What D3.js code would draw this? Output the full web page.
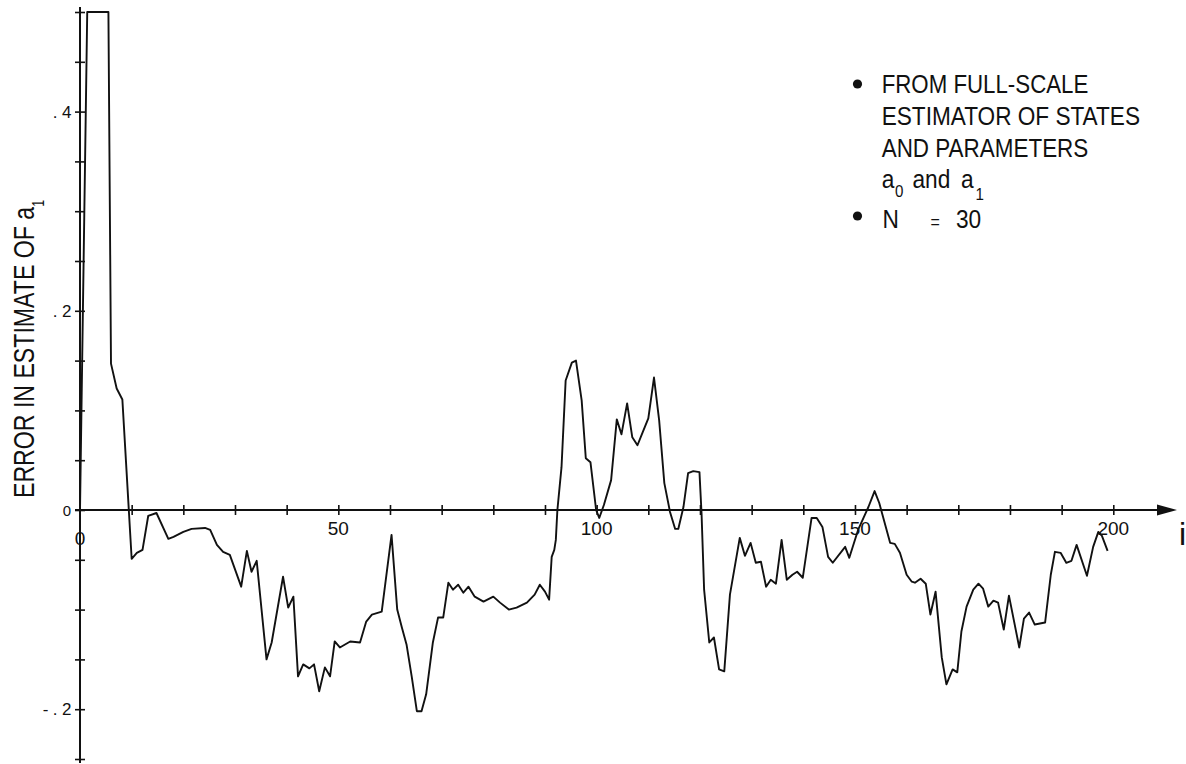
<!DOCTYPE html>
<html>
<head>
<meta charset="utf-8">
<script src="https://cdn.jsdelivr.net/npm/d3@7"></script>
<style>
  html, body { margin: 0; padding: 0; background: #fff; }
  svg { display: block; }
  text { font-family: "Liberation Sans", Arial, sans-serif; fill: #111; }
</style>
</head>
<body>
<svg id="chart" width="1186" height="764"></svg>
<script>
// Sample index i and the error in the a1 estimate at that step
const stepIndex = [
  0, 1.4, 5.5, 6.0, 7.1, 8.2, 10.0, 11.0, 12.1, 13.2, 14.8, 17.1, 18.1, 20.0, 21.6, 24.2, 25.2,
  26.5, 27.7, 29.0, 31.2, 32.3, 33.2, 34.2, 36.1, 37.1, 39.3, 40.3, 41.3, 42.2, 43.2, 44.4,
  45.3, 46.3, 47.4, 48.4, 49.3, 50.3, 52.3, 54.2, 55.4, 56.5, 58.4, 60.3, 61.4, 62.3, 63.2,
  64.2, 65.2, 66.1, 67.0, 68.3, 69.3, 70.3, 71.3, 72.2, 73.2, 74.2, 75.2, 76.4, 78.1, 80.0,
  81.3, 83.0, 84.5, 86.5, 88.0, 89.0, 90.0, 90.8, 91.3, 91.8, 92.1, 92.4, 93.2, 94.0, 95.2,
  96.0, 97.1, 97.9, 98.8, 99.9, 100.5, 101.4, 102.8, 103.9, 104.8, 105.9, 106.9, 107.9, 108.9,
  110.0, 111.1, 112.1, 113.1, 114.2, 115.2, 115.8, 116.8, 117.7, 118.7, 119.9, 120.3, 120.8,
  121.8, 122.7, 123.7, 124.7, 125.8, 127.7, 128.7, 129.8, 130.8, 131.8, 132.8, 133.7, 134.7,
  135.8, 136.8, 137.9, 138.8, 139.9, 141.6, 142.6, 143.7, 144.8, 145.7, 148.1, 148.9, 150.6,
  152.6, 153.8, 154.7, 156.8, 157.7, 158.7, 160.0, 161.0, 161.6, 162.7, 163.7, 164.6, 165.6,
  166.8, 167.7, 168.9, 169.8, 170.6, 171.6, 172.9, 173.9, 174.8, 175.8, 176.8, 177.7, 178.8,
  179.8, 181.8, 182.7, 183.7, 184.8, 186.8, 187.9, 188.7, 189.8, 190.9, 191.9, 192.9, 194.9,
  196.1, 197.1, 197.8, 198.9
];
const errorA1 = [
  0.000, 0.500, 0.500, 0.147, 0.122, 0.111, -0.049, -0.043, -0.040, -0.006, -0.003, -0.029, -0.027, -0.022, -0.019, -0.018, -0.020,
  -0.035, -0.042, -0.045, -0.077, -0.041, -0.062, -0.051, -0.150, -0.133, -0.067, -0.098, -0.087, -0.167, -0.155, -0.159,
  -0.155, -0.182, -0.158, -0.167, -0.132, -0.138, -0.132, -0.133, -0.112, -0.105, -0.102, -0.025, -0.100, -0.118, -0.135,
  -0.167, -0.202, -0.202, -0.185, -0.133, -0.108, -0.108, -0.073, -0.080, -0.075, -0.083, -0.077, -0.087, -0.092, -0.087,
  -0.093, -0.100, -0.098, -0.093, -0.085, -0.075, -0.082, -0.090, -0.047, -0.040, -0.030, 0.000, 0.043, 0.130, 0.148,
  0.150, 0.110, 0.052, 0.048, 0.000, -0.008, 0.005, 0.030, 0.091, 0.076, 0.107, 0.073, 0.065, 0.078,
  0.092, 0.133, 0.090, 0.027, -0.002, -0.019, -0.019, 0.003, 0.037, 0.039, 0.038, -0.003, -0.080,
  -0.133, -0.128, -0.160, -0.162, -0.085, -0.028, -0.046, -0.033, -0.053, -0.052, -0.077, -0.070, -0.074,
  -0.030, -0.070, -0.065, -0.062, -0.068, -0.008, -0.008, -0.017, -0.047, -0.053, -0.037, -0.048, -0.020,
  0.003, 0.019, 0.007, -0.033, -0.034, -0.043, -0.065, -0.072, -0.073, -0.069, -0.074, -0.105, -0.082,
  -0.148, -0.175, -0.160, -0.163, -0.122, -0.097, -0.080, -0.074, -0.079, -0.097, -0.091, -0.093, -0.120,
  -0.086, -0.138, -0.109, -0.103, -0.115, -0.113, -0.065, -0.042, -0.043, -0.053, -0.051, -0.035, -0.066,
  -0.037, -0.022, -0.026, -0.041
];

const xTickValues = d3.range(10, 201, 10);
const xTickLabels = [0, 50, 100, 150, 200];
const yTickValues = d3.range(0, 16).map(k => -0.25 + k * 0.05);
const yTickLabels = [0.4, 0.2, 0, -0.2];
const legendLines = ["FROM FULL-SCALE", "ESTIMATOR OF STATES", "AND PARAMETERS"];

const svg = d3.select("#chart");
const ink = "#111";

const x = d3.scaleLinear().domain([0, 200]).range([80, 1113.3]);
const y = d3.scaleLinear().domain([-0.25, 0.5]).range([759, 12]);

// ---- axes ----
const gx = svg.append("g").attr("transform", `translate(0,${y(0)})`)
  .call(d3.axisBottom(x).tickValues(xTickValues).tickSize(5).tickSizeOuter(0).tickFormat(""));
gx.select(".domain").remove();
gx.selectAll(".tick line").attr("y1", -5).attr("y2", 5).attr("stroke", ink).attr("stroke-width", 1.6);

const gy = svg.append("g").attr("transform", `translate(${x(0)},0)`)
  .call(d3.axisLeft(y).tickValues(yTickValues).tickSize(5).tickSizeOuter(0).tickFormat(""));
gy.select(".domain").remove();
gy.selectAll(".tick line").attr("x1", -5).attr("x2", 5).attr("stroke", ink).attr("stroke-width", 1.6);

// axis lines with arrowhead on i
svg.append("line").attr("x1", x(0) - 5).attr("x2", 1160).attr("y1", y(0)).attr("y2", y(0))
  .attr("stroke", ink).attr("stroke-width", 2);
svg.append("path")
  .attr("d", `M1157,${y(0) - 5.5} L1177,${y(0)} L1157,${y(0) + 5.5} Z`)
  .attr("fill", ink);
svg.append("line").attr("x1", x(0)).attr("x2", x(0)).attr("y1", 7).attr("y2", 763)
  .attr("stroke", ink).attr("stroke-width", 2);

// tick labels
const fmtY = v => v === 0 ? "0" : (v < 0 ? "-" : "") + "." + Math.round(Math.abs(v) * 10);
svg.append("g").selectAll("text").data(yTickLabels).join("text")
  .attr("x", d => d === 0 ? 71 : 76)
  .attr("y", d => y(d) + 6)
  .attr("text-anchor", "end")
  .attr("font-size", d => d === 0 ? 15 : 17)
  .attr("letter-spacing", d => d === 0 ? 0 : 4.5)
  .text(fmtY);

svg.append("g").selectAll("text").data(xTickLabels).join("text")
  .attr("x", d => x(d))
  .attr("y", d => d === 0 ? 545 : 535)
  .attr("text-anchor", "middle")
  .attr("font-size", 19)
  .text(d => d);

svg.append("text").attr("x", 1179).attr("y", 545).attr("font-size", 32).text("i");

// y axis title
const title = svg.append("text")
  .attr("transform", "translate(33.5,498) rotate(-90)")
  .attr("font-size", 30)
  .attr("textLength", 298)
  .attr("lengthAdjust", "spacingAndGlyphs");
title.append("tspan").text("ERROR IN ESTIMATE OF a");
title.append("tspan").attr("font-size", 16).attr("dy", 10).text("1");

// ---- data curve ----
const pts = stepIndex.map((s, k) => [s, errorA1[k]]);
svg.append("path")
  .datum(pts)
  .attr("fill", "none")
  .attr("stroke", ink)
  .attr("stroke-width", 1.9)
  .attr("stroke-linejoin", "round")
  .attr("d", d3.line().x(d => x(d[0])).y(d => y(d[1])));

// ---- legend ----
const cond = (px, py, txt, size) => svg.append("text")
  .attr("transform", `translate(${px},${py}) scale(0.89,1)`)
  .attr("font-size", size).text(txt);

svg.append("circle").attr("cx", 857.5).attr("cy", 84).attr("r", 4.6).attr("fill", ink);
svg.append("circle").attr("cx", 857.5).attr("cy", 216).attr("r", 4.6).attr("fill", ink);

const lineWidths = [206.6, 258.3, 206.6];
legendLines.forEach((t, k) => {
  svg.append("text")
    .attr("x", 881.7).attr("y", 93.3 + k * 31.7)
    .attr("font-size", 25.5)
    .attr("textLength", lineWidths[k])
    .attr("lengthAdjust", "spacingAndGlyphs")
    .text(t);
});
cond(881.7, 188.3, "a", 25.5);
cond(895, 197, "0", 17);
cond(912.5, 188.3, "and", 25.5);
cond(961, 188.3, "a", 25.5);
cond(975.5, 199.5, "1", 17);
cond(882.5, 228.3, "N", 25.5);
cond(930.5, 228.3, "=", 18);
cond(956, 228.3, "30", 25.5);
</script>
</body>
</html>
